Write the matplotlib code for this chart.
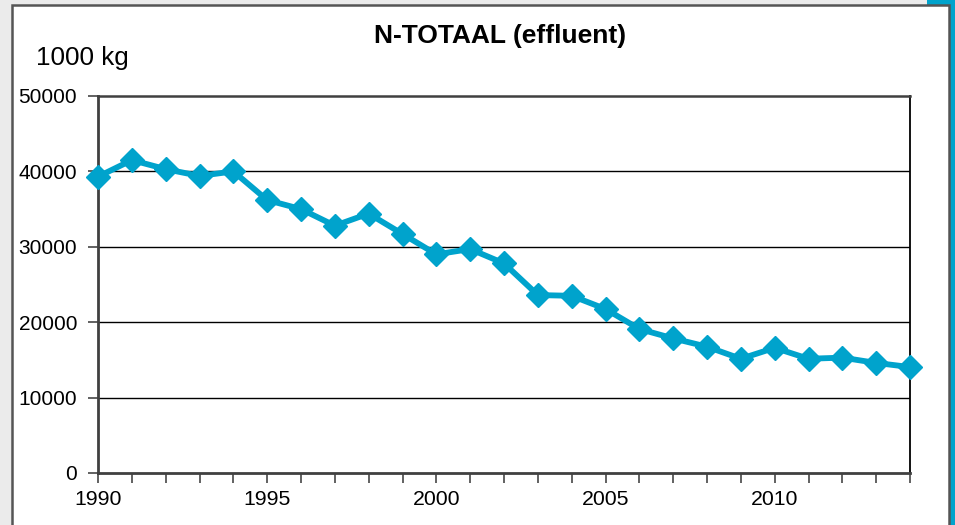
import matplotlib
matplotlib.use("Agg")
import matplotlib.pyplot as plt
from matplotlib.patches import Rectangle
from matplotlib.ticker import MultipleLocator

years = list(range(1990, 2015))
values = [39300, 41500, 40300, 39400, 40000, 36200, 35000, 32800, 34400, 31700,
          29000, 29700, 27800, 23600, 23500, 21750, 19100, 17850, 16750, 15150,
          16600, 15150, 15300, 14600, 14050]
y_ticks = [0, 10000, 20000, 30000, 40000, 50000]
x_tick_labels = [1990, 1995, 2000, 2005, 2010]

title = "N-TOTAAL (effluent)"
unit = "1000 kg"
line_color = "#00A3CC"

plt.rcParams['font.family'] = ['Liberation Sans', 'DejaVu Sans']

W, H = 955, 525
fig = plt.figure(figsize=(W / 100, H / 100), dpi=100)
fig.patch.set_facecolor("#EBEBEB")

def px(x0, y0, x1, y1):
    return (x0 / W, 1 - y1 / H, (x1 - x0) / W, (y1 - y0) / H)

# cyan strip
l, b, w, h = px(927, 0, 955, 525)
fig.patches.append(Rectangle((l, b), w, h, transform=fig.transFigure,
                             facecolor="#00A3CC", edgecolor="none", zorder=0))
# white panel
l, b, w, h = px(12, 5, 949, 530)
fig.patches.append(Rectangle((l, b), w, h, transform=fig.transFigure,
                             facecolor="white", edgecolor="#555555", linewidth=1.8, zorder=1))

ax = fig.add_axes(px(98, 96, 910, 473))
ax.set_zorder(2)
ax.set_facecolor("white")

ax.plot(years, values, color=line_color, linewidth=4.2, marker="D",
        markersize=12, markerfacecolor=line_color, markeredgecolor=line_color,
        clip_on=False, zorder=5)

ax.set_xlim(1990, 2014)
ax.set_ylim(0, 50000)
ax.set_yticks(y_ticks)
ax.set_yticklabels([str(v) for v in y_ticks], fontsize=15)
ax.set_xticks(x_tick_labels)
ax.set_xticklabels([str(v) for v in x_tick_labels], fontsize=15.3)
ax.xaxis.set_minor_locator(MultipleLocator(1))

for yv in y_ticks[1:-1]:
    ax.axhline(yv, color="black", linewidth=1.0, zorder=1)

ax.tick_params(axis="both", which="both", direction="out", length=7, width=1.3,
               color="#555555")
ax.tick_params(axis="y", pad=8)
ax.tick_params(axis="x", pad=5)

for s in ["left", "bottom"]:
    ax.spines[s].set_color("#404040")
    ax.spines[s].set_linewidth(2.0)
ax.spines["top"].set_color("#404040")
ax.spines["top"].set_linewidth(1.8)
ax.spines["right"].set_color("black")
ax.spines["right"].set_linewidth(1.3)

fig.text(500 / W, 1 - 36 / H, title, fontsize=19, fontweight="bold",
         ha="center", va="center")
fig.text(36 / W, 1 - 58 / H, unit, fontsize=18.8, ha="left", va="center")

fig.savefig("out.png", dpi=100, facecolor=fig.get_facecolor())
